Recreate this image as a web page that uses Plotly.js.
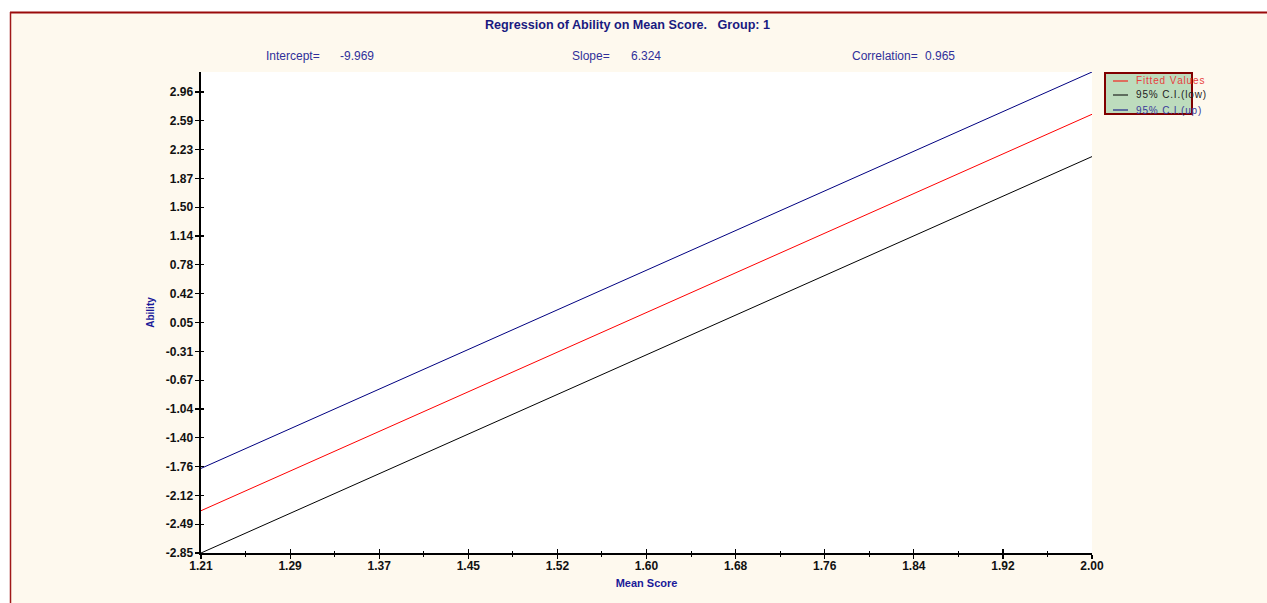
<!DOCTYPE html>
<html>
<head>
<meta charset="utf-8">
<script src="https://cdn.plot.ly/plotly-3.0.1.min.js"></script>
<style>
  html, body { margin: 0; padding: 0; background: #ffffff; }
  #chart { width: 1267px; height: 603px; }
</style>
</head>
<body>
<div id="chart"></div>
<script>
// ---- data ----
const meanScore   = [1.21, 2.00];
const fitted      = [-2.317, 2.679];
const ciLow       = [-2.850, 2.146];
const ciUp        = [-1.784, 3.212];
const seriesNames = ["Fitted Values", "95% C.I.(low)", "95% C.I.(up)"];
const xTickLabels = ["1.21","1.29","1.37","1.45","1.52","1.60","1.68","1.76","1.84","1.92","2.00"];
const yTickLabels = ["-2.85","-2.49","-2.12","-1.76","-1.40","-1.04","-0.67","-0.31","0.05","0.42","0.78","1.14","1.50","1.87","2.23","2.59","2.96"];
const statLabels  = ["Intercept=", "Slope=", "Correlation="];
const statValues  = ["-9.969", "6.324", "0.965"];
const titleText   = "Regression of Ability on Mean Score.   Group: 1";

// ---- layout helpers ----
const W = 1267, H = 603;
const L = 201, R = 1092, T = 72, B = 553;
const PX = p => (p - L) / (R - L);
const PY = p => (B - p) / (B - T);

const xRange = [1.21, 2.00];
const yRange = [-2.85, 3.212];
const xStep = (xRange[1] - xRange[0]) / (xTickLabels.length - 1);
const xTickVals = xTickLabels.map((_, i) => xRange[0] + i * xStep);
const yStep = (parseFloat(yTickLabels[yTickLabels.length-1]) - parseFloat(yTickLabels[0])) / (yTickLabels.length - 1);
const yTickVals = yTickLabels.map((_, i) => parseFloat(yTickLabels[0]) + i * yStep);

const colors = ["#ff0000", "#000000", "#000080"];
const legendTextColors = ["#e84040", "#222222", "#3a3a9a"];
const FONT = "Liberation Sans, Arial, sans-serif";

const traces = [
  { x: meanScore, y: fitted, name: seriesNames[0], mode: "lines", line: { color: colors[0], width: 1 } },
  { x: meanScore, y: ciLow,  name: seriesNames[1], mode: "lines", line: { color: colors[1], width: 1 } },
  { x: meanScore, y: ciUp,   name: seriesNames[2], mode: "lines", line: { color: colors[2], width: 1 } }
];

const shapes = [
  // white margin above / left of the frame
  { type: "rect", xref: "paper", yref: "paper", x0: PX(-5), x1: PX(W + 5), y0: PY(12), y1: PY(-5), fillcolor: "#ffffff", line: { width: 0 } },
  { type: "rect", xref: "paper", yref: "paper", x0: PX(-5), x1: PX(10), y0: PY(H + 5), y1: PY(-5), fillcolor: "#ffffff", line: { width: 0 } },
  // frame border
  { type: "line", xref: "paper", yref: "paper", x0: PX(10), x1: PX(W + 5), y0: PY(12.5), y1: PY(12.5), line: { color: "#9a0a0a", width: 2 } },
  { type: "line", xref: "paper", yref: "paper", x0: PX(10.5), x1: PX(10.5), y0: PY(12), y1: PY(H + 5), line: { color: "#a01818", width: 1.5 } },
  // legend box
  { type: "rect", xref: "paper", yref: "paper", x0: PX(1105), x1: PX(1192), y0: PY(114), y1: PY(73), fillcolor: "#bddcbd", line: { color: "#800000", width: 2 } }
];

const legendY = [81, 95, 110];
const annotations = [];
seriesNames.forEach((n, i) => {
  shapes.push({ type: "line", xref: "paper", yref: "paper", x0: PX(1113), x1: PX(1128), y0: PY(legendY[i]), y1: PY(legendY[i]), line: { color: colors[i], width: 1 } });
  annotations.push({ xref: "paper", yref: "paper", x: PX(1134), y: PY(legendY[i]), xanchor: "left", yanchor: "middle", showarrow: false,
    text: n.split("").join("\u200A"), font: { family: FONT, size: 10, color: legendTextColors[i] } });
});

annotations.push({ xref: "paper", yref: "paper", x: PX(627), y: PY(25), xanchor: "center", yanchor: "middle", showarrow: false,
  text: "<b>" + titleText.replace(/   /g, "&nbsp;&nbsp;&nbsp;") + "</b>", font: { family: FONT, size: 12.6, color: "#1a1a80" } });

const statLabelX = [264, 570, 850];
const statValueX = [338, 629, 923];
statLabels.forEach((s, i) => {
  annotations.push({ xref: "paper", yref: "paper", x: PX(statLabelX[i]), y: PY(56), xanchor: "left", yanchor: "middle", showarrow: false,
    text: s, font: { family: FONT, size: 12, color: "#30309a" } });
  annotations.push({ xref: "paper", yref: "paper", x: PX(statValueX[i]), y: PY(56), xanchor: "left", yanchor: "middle", showarrow: false,
    text: statValues[i], font: { family: FONT, size: 12, color: "#30309a" } });
});

const tickFont = { family: FONT, size: 12, color: "#111111", weight: "bold" };

const layout = {
  width: W, height: H,
  margin: { l: L, r: W - R, t: T, b: H - B, pad: 0 },
  paper_bgcolor: "#fef9ee",
  plot_bgcolor: "#ffffff",
  showlegend: false,
  xaxis: {
    range: xRange, tickmode: "array", tickvals: xTickVals, ticktext: xTickLabels,
    showgrid: false, zeroline: false, showline: true, linecolor: "#000000", linewidth: 1.5,
    ticks: "outside", ticklen: 4, tickwidth: 1.2, tickcolor: "#000000", ticklabelstandoff: -3,
    minor: { tickmode: "linear", tick0: xRange[0] + xStep / 2, dtick: xStep, ticks: "outside", ticklen: 2, tickwidth: 1, tickcolor: "#000000", showgrid: false },
    tickfont: tickFont,
    title: { text: "<b>Mean Score</b>", font: { family: FONT, size: 11, color: "#1a1a99" }, standoff: 7 },
    fixedrange: true
  },
  xaxis2: {
    overlaying: "x", range: xRange, tickmode: "array", tickvals: xTickVals, showticklabels: false,
    showgrid: false, zeroline: false, showline: false,
    ticks: "inside", ticklen: 4, tickwidth: 1.2, tickcolor: "#000000",
    minor: { tickmode: "linear", tick0: xRange[0] + xStep / 2, dtick: xStep, ticks: "inside", ticklen: 2, tickwidth: 1, tickcolor: "#000000", showgrid: false }
  },
  yaxis: {
    range: yRange, tickmode: "array", tickvals: yTickVals, ticktext: yTickLabels,
    showgrid: false, zeroline: false, showline: true, linecolor: "#000000", linewidth: 2.5,
    ticks: "outside", ticklen: 4, tickwidth: 1.2, tickcolor: "#000000", ticklabelstandoff: -1,
    tickfont: tickFont,
    title: { text: "<b>Ability</b>", font: { family: FONT, size: 10, color: "#1a1a99" }, standoff: 9 },
    fixedrange: true
  },
  yaxis2: {
    overlaying: "y", range: yRange, tickmode: "array", tickvals: yTickVals, showticklabels: false,
    showgrid: false, zeroline: false, showline: false,
    ticks: "inside", ticklen: 3, tickwidth: 1.2, tickcolor: "#000000"
  },
  shapes: shapes,
  annotations: annotations
};

// invisible trace to activate the overlay axes
traces.push({ x: [xRange[0]], y: [yRange[0]], xaxis: "x2", yaxis: "y2", mode: "markers", marker: { opacity: 0 }, hoverinfo: "skip", showlegend: false });

Plotly.newPlot("chart", traces, layout, { displayModeBar: false, staticPlot: true });
</script>
</body>
</html>
